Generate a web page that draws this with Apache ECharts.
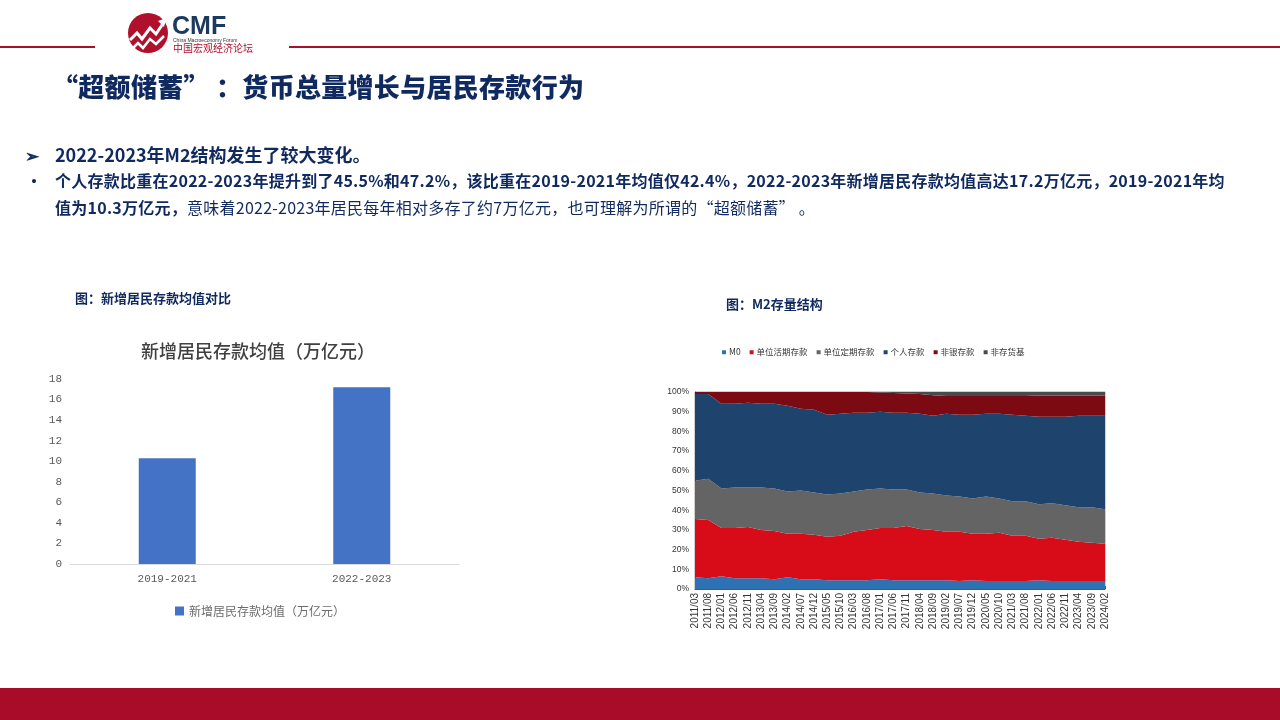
<!DOCTYPE html>
<html>
<head>
<meta charset="utf-8">
<script src="https://cdn.jsdelivr.net/npm/echarts@6/dist/echarts.min.js"></script>
<style>
  html, body { margin:0; padding:0; width:1280px; height:720px; background:#fff; overflow:hidden; }
  body { position:relative; font-family:"Noto Sans CJK SC","Noto Sans",sans-serif; color:#10295f; }
  #chart { position:absolute; left:0; top:0; width:1280px; height:720px; z-index:1; }
  .abs { position:absolute; z-index:2; white-space:nowrap; }
  .hline { position:absolute; height:2px; background:#a8102e; top:46px; z-index:2; }
  #footer { position:absolute; left:0; top:688px; width:1280px; height:32px; background:#a80c28; z-index:2; }
  #title { left:52px; top:67px; font-size:26px; font-weight:900; letter-spacing:0.3px; }
  #b1 { left:25px; top:142px; font-size:17px; font-weight:bold; }
  #l1 { left:55px; top:141px; font-size:18px; font-weight:bold; }
  #b2 { left:26px; top:168px; font-size:16px; font-weight:bold; }
  #l2 { left:55px; top:167px; font-size:16px; line-height:27px; letter-spacing:0.25px; }
  .cap { font-size:13px; font-weight:bold; }
</style>
</head>
<body>
<div id="chart"></div>

<div class="hline" style="left:0;width:95px;"></div>
<div class="hline" style="left:289px;width:991px;"></div>
<svg class="abs" style="left:120px;top:8px;" width="140" height="48" viewBox="0 0 140 48">
  <circle cx="28" cy="25" r="20" fill="#b0102c"/>
  <polyline points="10,32 17,25 22,31 30,20 36,26 44,14" fill="none" stroke="#fff" stroke-width="3"/>
  <polygon points="46,10 38,13 44,19" fill="#fff"/>
  <polyline points="12,41 18,35 23,40 30,31 36,36 44,28" fill="none" stroke="#fff" stroke-width="2.5"/>
  <text x="52" y="26" font-family="Liberation Sans, Arial, sans-serif" font-weight="bold" font-size="25" fill="#1c3a5e">CMF</text>
  <text x="53" y="34" font-family="Liberation Sans, Arial, sans-serif" font-size="5" fill="#333">China Macroeconomy Forum</text>
  <text x="53" y="44" font-family="Noto Sans CJK SC, sans-serif" font-size="10" fill="#b0102c">中国宏观经济论坛</text>
</svg>

<div id="title" class="abs">“超额储蓄” ：货币总量增长与居民存款行为</div>
<div id="b1" class="abs">➢</div>
<div id="l1" class="abs">2022-2023年M2结构发生了较大变化。</div>
<div id="b2" class="abs">•</div>
<div id="l2" class="abs"><b>个人存款比重在2022-2023年提升到了45.5%和47.2%，该比重在2019-2021年均值仅42.4%，2022-2023年新增居民存款均值高达17.2万亿元，2019-2021年均</b><br><b>值为10.3万亿元，</b>意味着2022-2023年居民每年相对多存了约7万亿元，也可理解为所谓的“超额储蓄” 。</div>

<div class="abs cap" style="left:75px;top:288px;">图：新增居民存款均值对比</div>
<div class="abs cap" style="left:726px;top:294px;">图：M2存量结构</div>

<div id="footer"></div>

<script>
// ---- Left chart data ----
const barCategories = ['2019-2021', '2022-2023'];
const barValues = [10.3, 17.2];
const barSeriesName = '新增居民存款均值（万亿元）';

// ---- Right chart data (M2 structure, %) ----
const months = ['2011/03','2011/08','2012/01','2012/06','2012/11','2013/04','2013/09','2014/02',
  '2014/07','2014/12','2015/05','2015/10','2016/03','2016/08','2017/01','2017/06','2017/11',
  '2018/04','2018/09','2019/02','2019/07','2019/12','2020/05','2020/10','2021/03','2021/08',
  '2022/01','2022/06','2022/11','2023/04','2023/09','2024/02'];
const m0 = [6,5.5,6.5,5.5,5.5,5.5,5,6,5,5,4.5,4.5,4.5,4.5,5,4.5,4.5,4.5,4.5,4.5,4,4.5,4,4,4,4,4.5,4,4,4,4,4];
const corpDemand = [29.5,29.5,24.5,25.5,26,24.5,24.5,22,23,22.5,22,22.5,24.5,25.5,26,26.5,27.5,26,25.5,24.5,25,23.5,24,24.5,23,23,21,22,21,20,19.5,19];
const corpTime = [19.5,21,20,20.5,20,21.5,21.5,21.5,22,21.5,21.5,21.5,20.5,20.5,20,19.5,18.5,18.5,18.5,18.5,18,18,19,17.5,17.5,17.5,17.5,17.5,17.5,17.5,18,17.5];
const household = [44,43,43,42.5,43,42.5,43,43.5,41.5,42,40.5,40.5,40,39,39,39,39,40,39.5,41.5,41.5,42.5,42,43,44,43.5,44.5,44,45,46.5,46.5,47.5];
const nonbank = [1,1,6,6,5.5,6,6,7,8.5,9,11.5,11,10.5,10.5,9.8,10,9.8,10,10.3,9,9.5,9.5,9,9,9.5,10,10.7,10.7,10.7,10.2,10.2,10.2];
const nonDepositFund = [0,0,0,0,0,0,0,0,0,0,0,0,0,0,0.2,0.5,0.7,1,1.7,2,2,2,2,2,2,2,1.8,1.8,1.8,1.8,1.8,1.8];
const areaNames = ['M0','单位活期存款','单位定期存款','个人存款','非银存款','非存货基'];
const areaColors = ['#2f72b4','#d80c18','#646464','#1e446d','#7c0a12','#4a4a4a'];
const areaData = [m0, corpDemand, corpTime, household, nonbank, nonDepositFund];

const chart = echarts.init(document.getElementById('chart'), null, {renderer:'canvas'});

const areaSeries = areaNames.map((n, i) => ({
  name: n, type: 'line', xAxisIndex: 1, yAxisIndex: 1, stack: 'm2',
  data: areaData[i], symbol: 'none', smooth: false,
  lineStyle: { width: 0 }, itemStyle: { color: areaColors[i] },
  areaStyle: { color: areaColors[i], opacity: 1 }
}));

chart.setOption({
  animation: false,
  backgroundColor: 'transparent',
  title: [{
    text: '新增居民存款均值（万亿元）', left: 253, top: 337, textAlign: 'center',
    textStyle: { fontSize: 18, fontWeight: 500, color: '#404040', fontFamily: 'Noto Sans CJK SC' }
  }],
  legend: [{
    data: [barSeriesName], left: 170, top: 600, icon: 'rect', itemWidth: 9, itemHeight: 9, itemGap: 4,
    textStyle: { fontSize: 12, color: '#6b6b6b', fontFamily: 'Noto Sans CJK SC' }
  }, {
    data: areaNames, left: 717, top: 343, icon: 'rect', itemWidth: 4, itemHeight: 4, itemGap: 9,
    textStyle: { fontSize: 8.5, color: '#333', fontFamily: 'Noto Sans CJK SC', padding: [0,0,0,-2] }
  }],
  grid: [
    { left: 70, right: 821, top: 379, bottom: 156 },
    { left: 695, right: 175, top: 392, bottom: 131, show: true, borderColor: '#a0a0a0', borderWidth: 1 }
  ],
  xAxis: [{
    type: 'category', gridIndex: 0, data: barCategories,
    axisLine: { lineStyle: { color: '#d9d9d9' } }, axisTick: { show: false },
    axisLabel: { fontSize: 11, color: '#595959', margin: 10, fontFamily: 'Liberation Mono' }
  }, {
    type: 'category', gridIndex: 1, data: months, boundaryGap: false,
    axisLine: { lineStyle: { color: '#555' } }, axisTick: { show: true, length: 3, inside: true, lineStyle: { color: '#555' } },
    axisLabel: { rotate: 90, interval: 0, fontSize: 10, color: '#333', margin: 4, fontFamily: 'Liberation Sans' }
  }],
  yAxis: [{
    type: 'value', gridIndex: 0, min: 0, max: 18, interval: 2,
    axisLine: { show: false }, axisTick: { show: false }, splitLine: { show: false },
    axisLabel: { fontSize: 11, color: '#595959', margin: 8, fontFamily: 'Liberation Mono' }
  }, {
    type: 'value', gridIndex: 1, min: 0, max: 100, interval: 10,
    axisLine: { show: true, lineStyle: { color: '#555' } }, axisTick: { show: false }, splitLine: { show: false },
    axisLabel: { fontSize: 8.5, color: '#333', margin: 6, formatter: '{value}%', fontFamily: 'Liberation Sans' }
  }],
  series: [{
    name: barSeriesName, type: 'bar', xAxisIndex: 0, yAxisIndex: 0, data: barValues,
    barWidth: 57, itemStyle: { color: '#4472c4' }
  }].concat(areaSeries)
});
</script>
</body>
</html>
